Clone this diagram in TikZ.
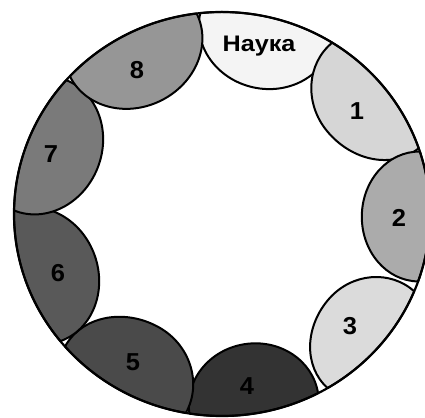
\documentclass[tikz,border=0pt]{standalone}
\usepackage{fontspec}
\setmainfont{Liberation Sans}
\newfontfamily\labfont[FakeStretch=1.12]{Liberation Sans}
\newfontfamily\digfont[FakeStretch=1.04]{Liberation Sans}
\definecolor{cN}{gray}{0.955}
\definecolor{cA}{gray}{0.84}
\definecolor{cB}{gray}{0.67}
\definecolor{cC}{gray}{0.86}
\definecolor{cD}{gray}{0.20}
\definecolor{cE}{gray}{0.29}
\definecolor{cF}{gray}{0.35}
\definecolor{cG}{gray}{0.48}
\definecolor{cH}{gray}{0.59}
\begin{document}
\begin{tikzpicture}[x=1pt,y=1pt,
  seg/.style={draw=black, line width=2pt, line join=round},
  rim/.style={draw=black, line width=2.2pt},
  lab/.style={font=\labfont\fontsize{22.5}{24}\selectfont\bfseries, inner sep=0pt},
  dig/.style={font=\digfont\fontsize{24.5}{26}\selectfont\bfseries, inner sep=0pt}]
\useasboundingbox (0,0) rectangle (425,417);
\clip (0,0) rectangle (425,417);
\def\cx{222}\def\cy{203}\def\rx{208}\def\ry{202}
\foreach \ta/\tb/\r/\s/\col in {
   58/96/0.9/0/cN,
   19/58/0.88/0.05/cA,
   -19.5/18/0.88/0/cB,
   -59.5/-22.5/0.9/0.05/cC,
   -99/-62.5/0.92/0/cD,
   221/260/0.9/0.05/cE,
   179/219/0.88/0/cF,
   138.5/179/0.88/0/cG,
   97/137/0.88/0/cH}{
  \pgfmathsetmacro\xa{\cx+\rx*cos(\ta)}
  \pgfmathsetmacro\ya{\cy+\ry*sin(\ta)}
  \pgfmathsetmacro\xb{\cx+\rx*cos(\tb)}
  \pgfmathsetmacro\yb{\cy+\ry*sin(\tb)}
  \pgfmathsetmacro\mx{(\xa+\xb)/2}
  \pgfmathsetmacro\my{(\ya+\yb)/2}
  \pgfmathsetmacro\ux{(\xb-\xa)/2}
  \pgfmathsetmacro\uy{(\yb-\ya)/2}
  \pgfmathsetmacro\dx{-\r*\uy}
  \pgfmathsetmacro\dy{\r*\ux}
  \pgfmathsetmacro\apx{\mx+\s*\ux+\dx}
  \pgfmathsetmacro\apy{\my+\s*\uy+\dy}
  \pgfmathsetmacro\ca{\xb+0.5523*\dx}
  \pgfmathsetmacro\cb{\yb+0.5523*\dy}
  \pgfmathsetmacro\cc{\apx+0.5523*(1-\s)*\ux}
  \pgfmathsetmacro\cd{\apy+0.5523*(1-\s)*\uy}
  \pgfmathsetmacro\ce{\apx-0.5523*(1+\s)*\ux}
  \pgfmathsetmacro\cf{\apy-0.5523*(1+\s)*\uy}
  \pgfmathsetmacro\cg{\xa+0.5523*\dx}
  \pgfmathsetmacro\ch{\ya+0.5523*\dy}
  \draw[seg, fill=\col] (\xa,\ya) arc[start angle=\ta, end angle=\tb, x radius=\rx pt, y radius=\ry pt]
    .. controls (\ca,\cb) and (\cc,\cd) .. (\apx,\apy)
    .. controls (\ce,\cf) and (\cg,\ch) .. cycle;
}
\draw[rim] (\cx,\cy) ellipse [x radius=\rx pt, y radius=\ry pt];
\node[lab] (tN) at (259,371) {Наука};
\node[dig] (t1) at (357,306) {1};
\node[dig] (t2) at (399,199) {2};
\node[dig] (t3) at (350,91) {3};
\node[dig] (t4) at (247,31) {4};
\node[dig] (t5) at (133,55) {5};
\node[dig] (t6) at (58,144) {6};
\node[dig] (t7) at (51,263) {7};
\node[dig] (t8) at (137,347) {8};
\end{tikzpicture}
\end{document}
